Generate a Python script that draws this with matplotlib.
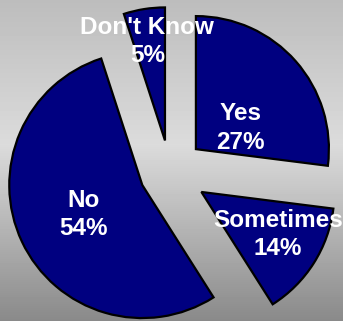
import numpy as np
import matplotlib
matplotlib.use("Agg")
import matplotlib.pyplot as plt

# survey answers
labels = ["Yes", "Sometimes", "No", "Don't Know"]
shares = [27, 14, 54, 5]

# how far each slice is pulled out, in pie radii
explode = [0.26, 0.28, 0.23, 0.24]
# where each label sits (data units, pie centre at 0,0)
label_xy = [(0.53, 0.33), (0.81, -0.47), (-0.65, -0.32), (-0.17, 0.98)]

plt.rcParams['font.family'] = ['Liberation Sans', 'DejaVu Sans']

fig = plt.figure(figsize=(3.43, 3.21), dpi=100)
ax = fig.add_axes([0, 0, 1, 1])
ax.set_axis_off()

xlim = (-1.278, 1.301)
ylim = (-1.120, 1.293)

# grey backdrop, lightest a little above the middle
rows = np.linspace(0, 1, 321)
shade = np.interp(rows, [0.0, 0.45, 1.0], [0.74, 0.86, 0.54])
grad = np.repeat(shade[:, None], 2, axis=1)
ax.imshow(grad, cmap="gray", vmin=0, vmax=1, aspect="auto",
          extent=(xlim[0], xlim[1], ylim[0], ylim[1]), origin="upper", zorder=0)

wedges, _ = ax.pie(shares, explode=explode, startangle=90, counterclock=False,
                   colors=["#000080"] * len(shares), radius=1.0,
                   wedgeprops=dict(edgecolor="black", linewidth=1.6))
for w in wedges:
    w.set_zorder(2)

for name, val, (x, y) in zip(labels, shares, label_xy):
    ax.text(x, y, f"{name}\n{val}%", ha="center", va="center", color="white",
            fontsize=17.5, fontweight="bold", linespacing=1.3, zorder=3)

ax.set_xlim(*xlim)
ax.set_ylim(*ylim)
ax.set_aspect("auto")

fig.savefig("out.png", dpi=100)
